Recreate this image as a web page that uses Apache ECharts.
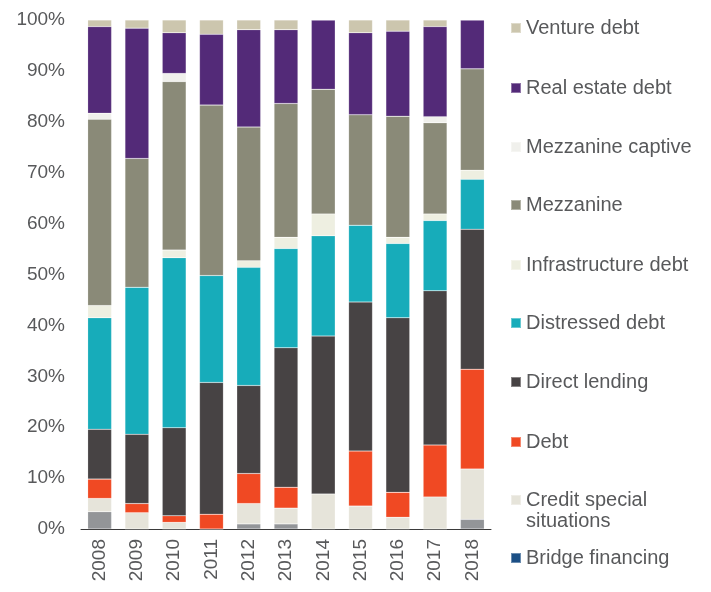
<!DOCTYPE html>
<html><head><meta charset="utf-8">
<script src="https://cdn.jsdelivr.net/npm/echarts@6/dist/echarts.min.js"></script>
<style>html,body{margin:0;padding:0;background:#fff}#c{width:711px;height:592px}</style>
</head><body><div id="c"></div>
<script>
const years = ['2008','2009','2010','2011','2012','2013','2014','2015','2016','2017','2018'];
const yTicks = [0,10,20,30,40,50,60,70,80,90,100];
// stack bottom -> top (values in %)
const bridgeFinancing      = [3.4, 0,   0,   0,   1.0, 1.0, 0,   0,   0,   0,   1.9];
const creditSpecial        = [2.6, 3.2, 1.3, 0,   4.0, 3.1, 6.9, 4.5, 2.3, 6.3, 9.9];
const debt                 = [3.8, 1.8, 1.3, 2.9, 5.9, 4.1, 0,   10.8,4.9, 10.2,19.6];
const directLending        = [9.8, 13.6,17.3,25.9,17.3,27.4,31.0,29.3,34.3,30.3,27.5];
const distressedDebt       = [21.9,28.9,33.4,21.0,23.2,19.5,19.7,15.1,14.6,13.8,9.8];
const infrastructureDebt   = [2.4, 0,   1.5, 0,   1.3, 2.2, 4.3, 0,   1.2, 1.3, 1.8];
const mezzanine            = [36.6,25.3,33.1,33.5,26.3,26.3,24.5,21.7,23.8,17.9,19.9];
const mezzanineCaptive     = [1.2, 0,   1.6, 0,   0,   0,   0,   0,   0,   1.2, 0];
const realEstateDebt       = [17.0,25.6,8.0, 13.9,19.1,14.5,13.6,16.1,16.7,17.7,9.6];
const ventureDebt          = [1.3, 1.6, 2.5, 2.8, 1.9, 1.9, 0,   2.5, 2.2, 1.3, 0];

const seriesDefs = [
  {name:'Bridge financing', data:bridgeFinancing, color:'#939598', legendColor:'#1B4F85'},
  {name:'Credit special situations', data:creditSpecial, color:'#E6E4DA'},
  {name:'Debt', data:debt, color:'#F04923'},
  {name:'Direct lending', data:directLending, color:'#474344'},
  {name:'Distressed debt', data:distressedDebt, color:'#17ACBA'},
  {name:'Infrastructure debt', data:infrastructureDebt, color:'#EEEFE1'},
  {name:'Mezzanine', data:mezzanine, color:'#8A8A78'},
  {name:'Mezzanine captive', data:mezzanineCaptive, color:'#F0F0EC'},
  {name:'Real estate debt', data:realEstateDebt, color:'#532A78'},
  {name:'Venture debt', data:ventureDebt, color:'#CCC6AE'}
];
const legendCenters = [558, 500, 442, 382, 323, 265, 205, 147, 88, 28];
const font = 'Liberation Sans, Arial, sans-serif';
const txt = '#58595B';

const legends = seriesDefs.map((s, i) => ({
  data: [{name: s.name, itemStyle: {color: s.legendColor || s.color}}],
  left: 510, top: legendCenters[i] - 11, padding: 0,
  itemWidth: 10, itemHeight: 10, icon: 'rect',
  formatter: n => n === 'Credit special situations' ? 'Credit special' : n,
  textStyle: {fontSize: 20, color: txt, fontFamily: font, lineHeight: 22},
  selectedMode: false
}));

const chart = echarts.init(document.getElementById('c'), null, {renderer: 'canvas'});
chart.setOption({
  animation: false,
  grid: {left: 81, right: 220, top: 20, bottom: 63, containLabel: false},
  legend: legends,
  graphic: [{type: 'text', left: 526, top: 511, style: {text: 'situations', fontSize: 20, fill: txt, fontFamily: font}}],
  xAxis: {
    type: 'category', data: years,
    axisLine: {show: true, lineStyle: {color: '#3A3A3A', width: 1}},
    axisTick: {show: false},
    axisLabel: {rotate: 90, fontSize: 19, color: txt, fontFamily: font, margin: 10}
  },
  yAxis: {
    type: 'value', min: 0, max: 100, interval: 10,
    axisLine: {show: false}, axisTick: {show: false}, splitLine: {show: false},
    axisLabel: {fontSize: 19, color: txt, fontFamily: font, margin: 16, formatter: v => v + '%'}
  },
  series: seriesDefs.map(s => ({
    name: s.name, type: 'bar', stack: 'all', data: s.data, barWidth: '64%',
    itemStyle: {color: s.color, borderColor: 'rgba(255,255,255,0.35)', borderWidth: 0.5}
  }))
});
</script></body></html>
